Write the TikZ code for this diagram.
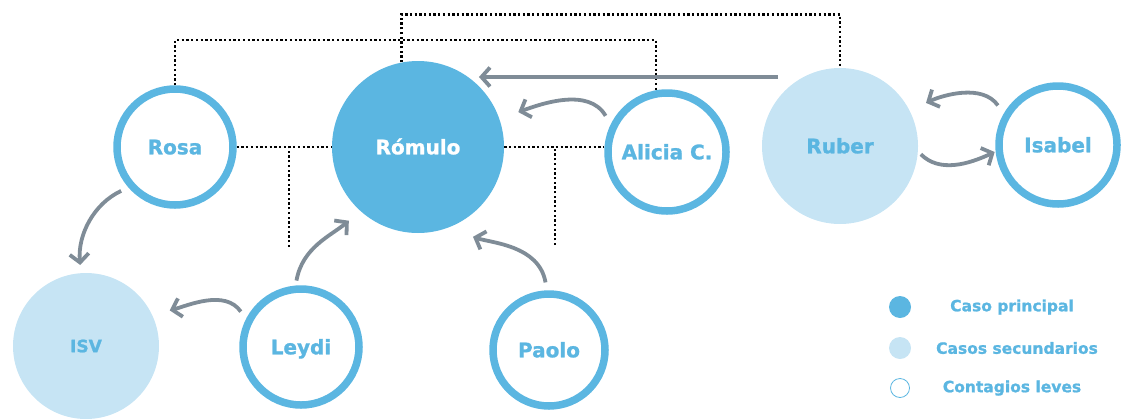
\documentclass[tikz,border=0pt]{standalone}
\usepackage{fontspec}
\setmainfont{DejaVu Sans}[BoldFeatures={FakeBold=1.2}]
\usetikzlibrary{arrows.meta}

\definecolor{caseblue}{HTML}{5BB6E1}
\definecolor{caselight}{HTML}{C6E4F4}
\definecolor{arrowgrey}{HTML}{7F8C97}

\begin{document}
\begin{tikzpicture}[x=1pt, y=-1pt,
	casetext/.style={font=\fontsize{20}{23}\selectfont\bfseries, text height=14.6pt, text depth=0pt},
	ring/.style={casetext, circle, draw=caseblue, line width=7.5pt, fill=white, inner sep=0pt, text=caseblue},
	main/.style={casetext, circle, fill=caseblue, inner sep=0pt, text=white},
	second/.style={casetext, circle, fill=caselight, inner sep=0pt, text=caseblue},
	flow/.style={draw=arrowgrey, line width=3.8pt, -{Straight Barb[length=8.5pt,width=19pt]}},
	tie/.style={draw=black, line width=2.3pt, dash pattern=on 2.3pt off 2.4pt},
	legend/.style={text=caseblue, font=\fontsize{15.5}{18}\selectfont\bfseries}]

	\useasboundingbox (0,0) rectangle (1123,418);

	% Cases {Rómulo, Rosa, Alicia C., Ruber, Isabel, ISV, Leydi, Paolo}
	\node [main, minimum size=172pt]	(romulo)	at (418,147)	{Rómulo};
	\node [ring, minimum size=116pt]	(rosa)		at (175,147)	{Rosa};
	\node [ring, minimum size=118pt]	(alicia)	at (667,152)	{Alicia C.};
	\node [second, minimum size=156pt]	(ruber)		at (840,146)	{Ruber};
	\node [ring, minimum size=118pt]	(isabel)	at (1058,145)	{Isabel};
	\node [second, minimum size=146pt, font=\fontsize{17}{20}\selectfont\bfseries, text height=12.4pt]
										(isv)		at (86,346)		{ISV};
	\node [ring, minimum size=116pt]	(leydi)		at (301,347)	{Leydi};
	\node [ring, minimum size=112pt]	(paolo)		at (549,350)	{Paolo};

	% Dotted ties
	\coordinate (leydiTie) at (289,247);
	\coordinate (paoloTie) at (555,245);
	\draw [tie] (rosa.north) -- ++(0,-45) -| (alicia.100);
	\draw [tie] (romulo.101) -- ++(0,-48) -| (ruber.north);
	\draw [tie] (rosa.east) -- (romulo.west);
	\draw [tie] (leydiTie) -- (leydiTie |- rosa.east);
	\draw [tie] (romulo.east) -- (romulo.east -| alicia.west);
	\draw [tie] (paoloTie) -- (paoloTie |- romulo.east);

	% Contagion arrows
	\coordinate (ruberFrom) at (778,77);
	\draw [flow] (ruberFrom) -- (ruberFrom -| romulo.north east);
	\draw [flow, shorten <=10pt, shorten >=20pt]	(alicia.154) to [out=120, in=20]	(romulo.19);
	\draw [flow, shorten <=5pt, shorten >=15pt]		(leydi.95) to [out=80, in=220]		(romulo.228);
	\draw [flow, shorten <=8pt, shorten >=27pt]		(paolo.92) to [out=100, in=-19]		(romulo.290);
	\draw [flow, shorten <=8pt, shorten >=8pt]		(rosa.221) to [out=205, in=95]		(isv.94);
	\draw [flow, shorten <=9pt, shorten >=18pt]		(leydi.153) to [out=125, in=15]		(isv.25);
	\draw [flow, shorten <=10pt, shorten >=18pt]	(isabel.150) to [out=125, in=25]	(ruber.27);
	\draw [flow, shorten <=4pt, shorten >=1pt]		(ruber.-4) to [out=-45, in=205]		(isabel.186);

	% Legend
	\node [circle, fill=caseblue, minimum size=22pt, inner sep=0pt]		(keyMain)	at (900,307) {};
	\node [circle, fill=caselight, minimum size=22pt, inner sep=0pt]	(keySecond)	at (900,348) {};
	\node [circle, draw=caseblue, line width=0.8pt, minimum size=19pt, inner sep=0pt] (keyMild) at (900,388) {};
	\node [legend]	(keyMainText)	at (1012,307)	{Caso principal};
	\node [legend]	(keySecondText)	at (1017,348)	{Casos secundarios};
	\node [legend]	(keyMildText)	at (1012,388)	{Contagios leves};

\end{tikzpicture}
\end{document}
